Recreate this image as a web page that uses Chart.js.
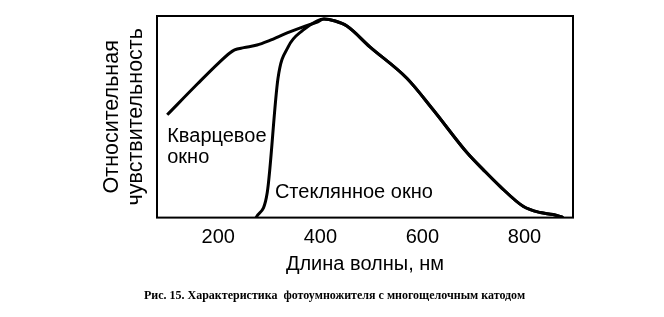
<!DOCTYPE html>
<html>
<head>
<meta charset="utf-8">
<script src="https://cdn.jsdelivr.net/npm/chart.js@4.4.1/dist/chart.umd.min.js"></script>
<style>
 html, body { margin: 0; padding: 0; background: #fff; }
</style>
</head>
<body>
<canvas id="chart" width="664" height="317"></canvas>
<script>
// wavelength (nm) / relative sensitivity
var quartzWave = [100, 160, 200, 222, 232, 250, 276, 300, 335, 365, 394, 407];
var quartzSens = [0.51, 0.665, 0.765, 0.815, 0.832, 0.843, 0.856, 0.878, 0.916, 0.945, 0.97, 0.985];

var glassWave = [274, 296, 317, 337, 366, 393, 407];
var glassSens = [0, 0.124, 0.69, 0.847, 0.93, 0.975, 0.985];

// common falling branch of both curves
var tailWave = [429, 452, 497, 570, 621, 688, 719, 752, 798, 831, 856, 876];
var tailSens = [0.975, 0.95, 0.847, 0.69, 0.535, 0.32, 0.238, 0.155, 0.055, 0.025, 0.015, 0];

var xTicks = [200, 400, 600, 800];

var curveNotes = [
 { text: "Кварцевое", x: 100, y: 0.376 },
 { text: "окно", x: 100, y: 0.272 },
 { text: "Стеклянное окно", x: 311, y: 0.099 },
];

var sansFont = "'Liberation Sans', Arial, Helvetica, sans-serif";

function toPoints(waves, values) {
 return waves.map(function (w, i) {
  return { x: w, y: values[i] };
 });
}

var frameAndNotes = {
 id: "frameAndNotes",
 afterDatasetsDraw: function (chart) {
  var ctx = chart.ctx;
  var area = chart.chartArea;
  ctx.save();
  ctx.strokeStyle = "#000";
  ctx.lineWidth = 2;
  ctx.strokeRect(area.left, area.top, area.right - area.left, area.bottom - area.top);
  ctx.font = "20px " + sansFont;
  ctx.fillStyle = "#000";
  ctx.textBaseline = "alphabetic";
  curveNotes.forEach(function (n) {
   ctx.fillText(
    n.text,
    chart.scales.x.getPixelForValue(n.x),
    chart.scales.y.getPixelForValue(n.y)
   );
  });
  ctx.restore();
 },
};

var ctx = document.getElementById("chart");

new Chart(ctx, {
 type: "line",
 data: {
  datasets: [
   {
    label: "Кварцевое окно",
    data: toPoints(quartzWave.concat(tailWave), quartzSens.concat(tailSens)),
    borderColor: "#000",
    borderWidth: 3,
    pointRadius: 0,
    cubicInterpolationMode: "monotone",
    fill: false,
   },
   {
    label: "Стеклянное окно",
    data: toPoints(glassWave.concat(tailWave), glassSens.concat(tailSens)),
    borderColor: "#000",
    borderWidth: 3,
    pointRadius: 0,
    cubicInterpolationMode: "monotone",
    fill: false,
   },
  ],
 },
 options: {
  responsive: false,
  animation: false,
  layout: {
   padding: { left: 96, right: 91, top: 16, bottom: 10 },
  },
  plugins: {
   legend: { display: false },
   tooltip: { enabled: false },
   title: {
    display: true,
    position: "bottom",
    text: "Рис. 15. Характеристика  фотоумножителя с многощелочным катодом",
    color: "#000",
    font: { family: "'Liberation Serif', 'Times New Roman', serif", size: 12, weight: "bold" },
    padding: { top: 11, bottom: 4 },
   },
  },
  scales: {
   x: {
    type: "linear",
    min: 80,
    max: 895,
    grid: { display: false },
    border: { display: false },
    afterBuildTicks: function (scale) {
     scale.ticks = xTicks.map(function (v) {
      return { value: v };
     });
    },
    afterFit: function (scale) {
     scale.height = 60;
    },
    ticks: {
     color: "#000",
     padding: 0,
     font: { family: sansFont, size: 20 },
    },
    title: {
     display: true,
     text: "Длина волны, нм",
     color: "#000",
     font: { family: sansFont, size: 20, lineHeight: 1.2 },
     padding: { top: 4, bottom: 1 },
    },
   },
   y: {
    type: "linear",
    min: 0,
    max: 1,
    grid: { display: false },
    border: { display: false },
    ticks: { display: false },
    afterFit: function (scale) {
     scale.width = 61;
    },
    title: {
     display: true,
     text: ["Относительная", "чувствительность"],
     color: "#000",
     font: { family: sansFont, size: 21.5, lineHeight: 1.13 },
     padding: { top: 4, bottom: 4 },
    },
   },
  },
 },
 plugins: [frameAndNotes],
});
</script>
</body>
</html>
